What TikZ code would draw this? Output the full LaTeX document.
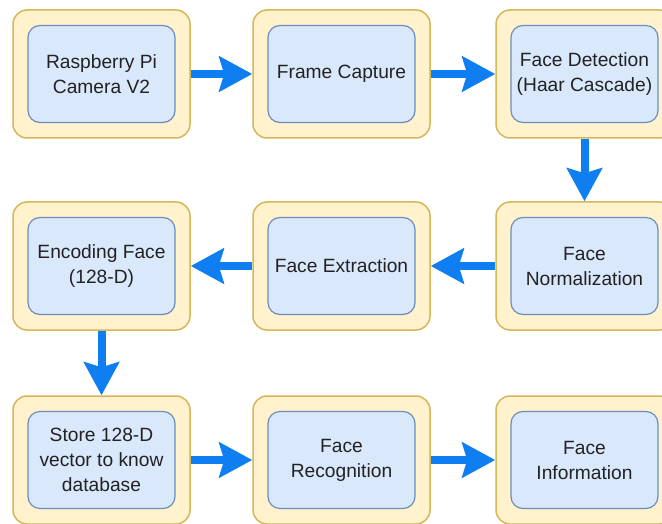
\documentclass[tikz,border=0pt]{standalone}
\usepackage{fontspec}
\setmainfont{Liberation Sans}
\usetikzlibrary{arrows.meta}
\definecolor{outerfill}{HTML}{FFF2CC}
\definecolor{outerline}{HTML}{D6B656}
\definecolor{innerfill}{HTML}{DAE8FC}
\definecolor{innerline}{HTML}{6C8EBF}
\definecolor{flowblue}{HTML}{0F7EF0}
\definecolor{textgray}{HTML}{222222}
\tikzset{
  stage/.style={draw=outerline, fill=outerfill, line width=1.5pt, rounded corners=14pt,
    minimum width=177pt, minimum height=128pt},
  stagetext/.style={draw=innerline, fill=innerfill, line width=1.2pt, rounded corners=12pt,
    minimum width=147pt, minimum height=97pt, align=center, text=textgray,
    font=\fontsize{19.2}{25}\selectfont},
  flow/.style={draw=flowblue, line width=8pt, -{Stealth[length=33pt, width=35pt, inset=5pt]}}
}
\begin{document}
\begin{tikzpicture}[x=1pt, y=-1pt]
                \useasboundingbox (0,0) rectangle (662,524);
                % row 1
                \node[stage] (camera) at (101.5,74) {};
                \node[stagetext] at (camera) {Raspberry Pi\\Camera V2};
                \node[stage] (capture) at (341.5,74) {};
                \node[stagetext] at (capture) {Frame Capture};
                \node[stage] (detect) at (584.5,74) {};
                \node[stagetext] at (detect) {Face Detection\\(Haar Cascade)};
                % row 2
                \node[stage] (encode) at (101.5,266) {};
                \node[stagetext] at (encode) {Encoding Face\\(128-D)};
                \node[stage] (extract) at (341.5,266) {};
                \node[stagetext] at (extract) {Face Extraction};
                \node[stage] (norm) at (584.5,266) {};
                \node[stagetext] at (norm) {Face\\Normalization};
                % row 3
                \node[stage] (store) at (101.5,460) {};
                \node[stagetext] at (store) {Store 128-D\\vector to know\\database};
                \node[stage] (recog) at (341.5,460) {};
                \node[stagetext] at (recog) {Face\\Recognition};
                \node[stage] (info) at (584.5,460) {};
                \node[stagetext] at (info) {Face\\Information};
                % arrows
                \draw[flow] (camera) -- (capture);
                \draw[flow] (capture) -- (detect);
                \draw[flow] (detect) -- (norm);
                \draw[flow] (norm) -- (extract);
                \draw[flow] (extract) -- (encode);
                \draw[flow] (encode) -- (store);
                \draw[flow] (store) -- (recog);
                \draw[flow] (recog) -- (info);
\end{tikzpicture}
\end{document}
